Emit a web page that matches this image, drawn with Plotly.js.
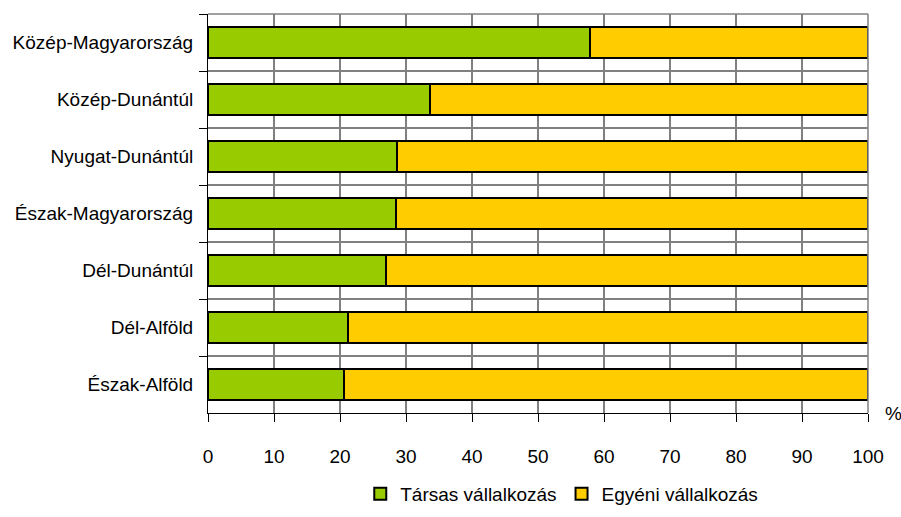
<!DOCTYPE html>
<html><head><meta charset="utf-8">
<script src="https://cdn.plot.ly/plotly-3.0.1.min.js"></script>
<style>html,body{margin:0;padding:0;background:#fff}#c{width:901px;height:517px}</style>
</head><body><div id="c"></div>
<script>
const regions = ["Közép-Magyarország","Közép-Dunántúl","Nyugat-Dunántúl","Észak-Magyarország","Dél-Dunántúl","Dél-Alföld","Észak-Alföld"];
const tarsas = [57.9, 33.6, 28.7, 28.5, 27.0, 21.2, 20.6];
const egyeni = [42.1, 66.4, 71.3, 71.5, 73.0, 78.8, 79.4];
const xTicks = [0,10,20,30,40,50,60,70,80,90,100];
const seriesNames = ["Társas vállalkozás","Egyéni vállalkozás"];
const FONT = '"Liberation Sans", Arial, sans-serif';
const FS = 19;

const traces = [
  {type:'bar', orientation:'h', name:seriesNames[0], y:regions, x:tarsas,
   marker:{color:'#99CC00', line:{color:'#000', width:2}}},
  {type:'bar', orientation:'h', name:seriesNames[1], y:regions, x:egyeni,
   marker:{color:'#FFCC00', line:{color:'#000', width:2}}}
];
const layout = {
  width:901, height:517,
  margin:{l:208, r:33, t:14, b:104, pad:0, autoexpand:false},
  barmode:'stack', bargap:0.47,
  paper_bgcolor:'#fff', plot_bgcolor:'#fff',
  font:{family:FONT, size:FS, color:'#000'},
  showlegend:true,
  legend:{orientation:'h', traceorder:'normal', x:0.536, xanchor:'center', y:-0.203, yanchor:'middle',
          font:{family:FONT, size:FS, color:'#000'}, itemwidth:30, tracegroupgap:0},
  xaxis:{range:[0,100], tickvals:xTicks, ticktext:xTicks.map(String), showgrid:true, automargin:false,
         gridcolor:'#808080', gridwidth:1.5, showline:true, linecolor:'#000', linewidth:1,
         ticks:'outside', ticklen:8, tickcolor:'#000', ticklabelstandoff:18,
         zeroline:false, fixedrange:true, tickfont:{family:FONT, size:FS}},
  yaxis:{type:'category', autorange:'reversed', showgrid:true, gridcolor:'#808080', gridwidth:1.5,
         tickson:'boundaries', ticks:'outside', ticklen:8, tickcolor:'#000', automargin:false,
         showline:true, linecolor:'#000', linewidth:1, ticklabelstandoff:10,
         tickfont:{family:FONT, size:FS}},
  shapes:[
    {type:'line', xref:'paper', yref:'paper', x0:0, x1:1, y0:1, y1:1, line:{color:'#808080', width:1.5}},
    {type:'line', xref:'paper', yref:'paper', x0:1, x1:1, y0:0, y1:1, line:{color:'#808080', width:1.5}}
  ],
  annotations:[{text:'%', xref:'paper', yref:'paper', x:1.022, y:0, xanchor:'left', yanchor:'middle',
                showarrow:false, font:{family:FONT, size:FS, color:'#000'}}]
};
Plotly.newPlot('c', traces, layout, {displayModeBar:false, staticPlot:true});
</script></body></html>
